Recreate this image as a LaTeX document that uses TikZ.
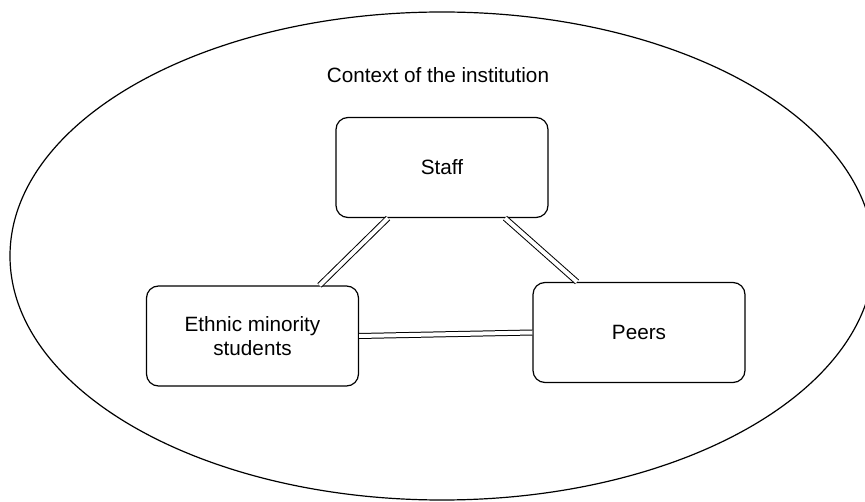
\documentclass[tikz,border=0pt]{standalone}
\usepackage{fontspec}
\setmainfont{Liberation Sans}
\begin{document}
\begin{tikzpicture}[x=1pt, y=-1pt,
    box/.style={draw, line width=1.2pt, rounded corners=12pt, minimum width=212pt,
      minimum height=100pt, inner sep=0pt, align=center},
    link/.style={double, double distance=4pt, line width=1pt}]
    \useasboundingbox (0,0) rectangle (865,502);
    \fontsize{20.7}{24}\selectfont
    % context ellipse, centre 442 256
    \draw[line width=1.2pt] (442,256) ellipse [x radius=432, y radius=244];
    \node (ctx) at (438,75) {Context of the institution};
    % the three parties
    \node[box] (Staff) at (442,167.5) {Staff};
    \node[box] (Ethnic) at (252.5,336) {Ethnic minority\\students};
    \node[box] (Peers) at (639,332.5) {Peers};
    % links between them
    \draw[link] ([xshift=-54pt]Staff.south) -- ([xshift=67pt]Ethnic.north);
    \draw[link] ([xshift=63pt]Staff.south) -- ([xshift=-62pt]Peers.north);
    \draw[link] (Ethnic.east) -- (Peers.west);
\end{tikzpicture}
\end{document}
